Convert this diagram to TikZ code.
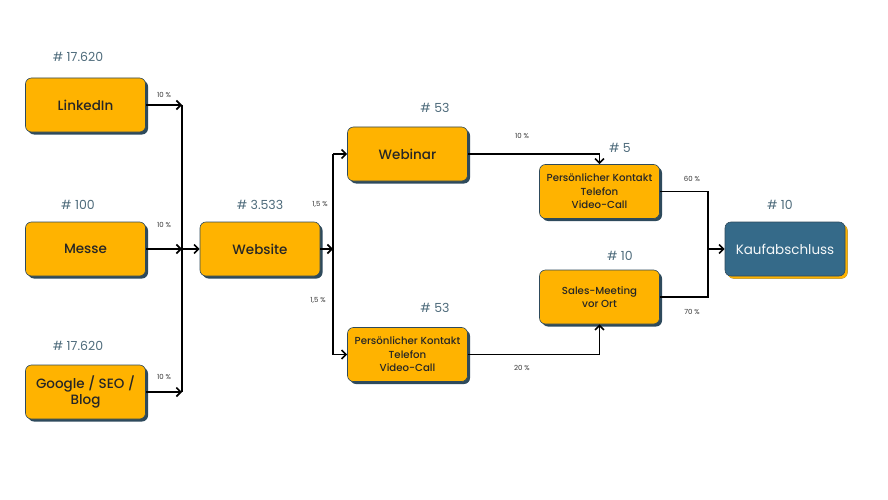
\documentclass[tikz,border=0pt]{standalone}
\usepackage{fontspec}
\setmainfont{Poppins}
\newfontfamily\boxfont{Poppins Medium}
\usetikzlibrary{arrows.meta,shadows}

\definecolor{boxorange}{HTML}{FFB300}
\definecolor{boxblue}{HTML}{356A89}
\definecolor{shadowblue}{HTML}{2E4A5C}
\definecolor{countgrey}{HTML}{4E6B7B}
\definecolor{ratetext}{HTML}{333333}

\tikzset{
  stage/.style={draw=shadowblue, fill=boxorange, rounded corners=6pt, line width=0.6pt,
    minimum width=120pt, minimum height=54pt, align=center, text=black!85,
    drop shadow={shadow xshift=2.5pt, shadow yshift=-2.5pt, fill=shadowblue, opacity=1}},
  bigtext/.style={font=\boxfont\fontsize{13.5}{16}\selectfont},
  smalltext/.style={font=\boxfont\fontsize{10.2}{13.5}\selectfont},
  goal/.style={stage, fill=boxblue, text=white!95!boxblue, font=\fontsize{13.5}{16}\selectfont,
    drop shadow={shadow xshift=2.5pt, shadow yshift=-2.5pt, fill=boxorange, opacity=1}},
  count/.style={text=countgrey, font=\fontsize{12.5}{14}\selectfont},
  rate/.style={text=ratetext, font=\fontsize{7}{8}\selectfont},
  flow/.style={-{Straight Barb[length=4.5pt,width=9pt]}, line width=1.6pt},
  line/.style={line width=1.6pt}
}

\begin{document}
\begin{tikzpicture}[x=1pt,y=-1pt]
\useasboundingbox (0,0) rectangle (888,500);

% sources
\node[stage,bigtext] (linkedin) at (85.5,105) {LinkedIn};
\node[stage,bigtext] (messe) at (85.5,249) {Messe};
\node[stage,bigtext] (google) at (85.5,392) {Google / SEO /\\Blog};
\node[count] (nlinkedin) at (78,57) {\# 17.620};
\node[count] (nmesse) at (78,205) {\# 100};
\node[count] (ngoogle) at (78,346) {\# 17.620};

% middle stages
\node[stage,bigtext] (website) at (260,249) {Website};
\node[stage,bigtext] (webinar) at (407.5,154) {Webinar};
\node[stage,smalltext] (kontaktA) at (407.5,354.5) {Persönlicher Kontakt\\Telefon\\Video-Call};
\node[stage,smalltext] (kontaktB) at (599.5,191.5) {Persönlicher Kontakt\\Telefon\\Video-Call};
\node[stage,smalltext] (sales) at (599.5,297) {Sales-Meeting\\vor Ort};
\node[goal] (kauf) at (785,249) {Kaufabschluss};
\node[count] (nwebsite) at (260,205) {\# 3.533};
\node[count] (nwebinar) at (435,108) {\# 53};
\node[count] (nkontaktA) at (435,308) {\# 53};
\node[count] (nkontaktB) at (620,148) {\# 5};
\node[count] (nsales) at (620,256) {\# 10};
\node[count] (nkauf) at (780,205) {\# 10};

% junctions
\coordinate (bus) at (182,249);
\coordinate (split) at (333,249);
\coordinate (join) at (708,249);

\draw[line] (bus |- linkedin.east) -- (bus |- google.east);
\draw[flow] (linkedin.east) -- (linkedin.east -| bus);
\draw[flow] (messe.east) -- (bus);
\draw[flow] (google.east) -- (google.east -| bus);
\draw[flow] (bus) -- (website.west);

\draw[flow] (website.east) -- (split);
\draw[line] (split |- webinar.west) -- (split |- kontaktA.west);
\draw[flow] (split |- webinar.west) -- (webinar.west);
\draw[flow] (split |- kontaktA.west) -- (kontaktA.west);

\draw[flow] (webinar.east) -| (kontaktB.north);
\draw[flow] (kontaktA.east) -| (sales.south);
\draw[line] (kontaktB.east) -| (join);
\draw[line] (sales.east) -| (join);
\draw[flow] (join) -- (kauf.west);

% rates
\node[rate] (r1) at (164,95) {10 \%};
\node[rate] (r2) at (164,225) {10 \%};
\node[rate] (r3) at (164,377) {10 \%};
\node[rate] (r4) at (320,204) {1,5 \%};
\node[rate] (r5) at (318,300) {1,5 \%};
\node[rate] (r6) at (522,136) {10 \%};
\node[rate] (r7) at (522,368) {20 \%};
\node[rate] (r8) at (692,179) {60 \%};
\node[rate] (r9) at (692,312) {70 \%};
\end{tikzpicture}
\end{document}
